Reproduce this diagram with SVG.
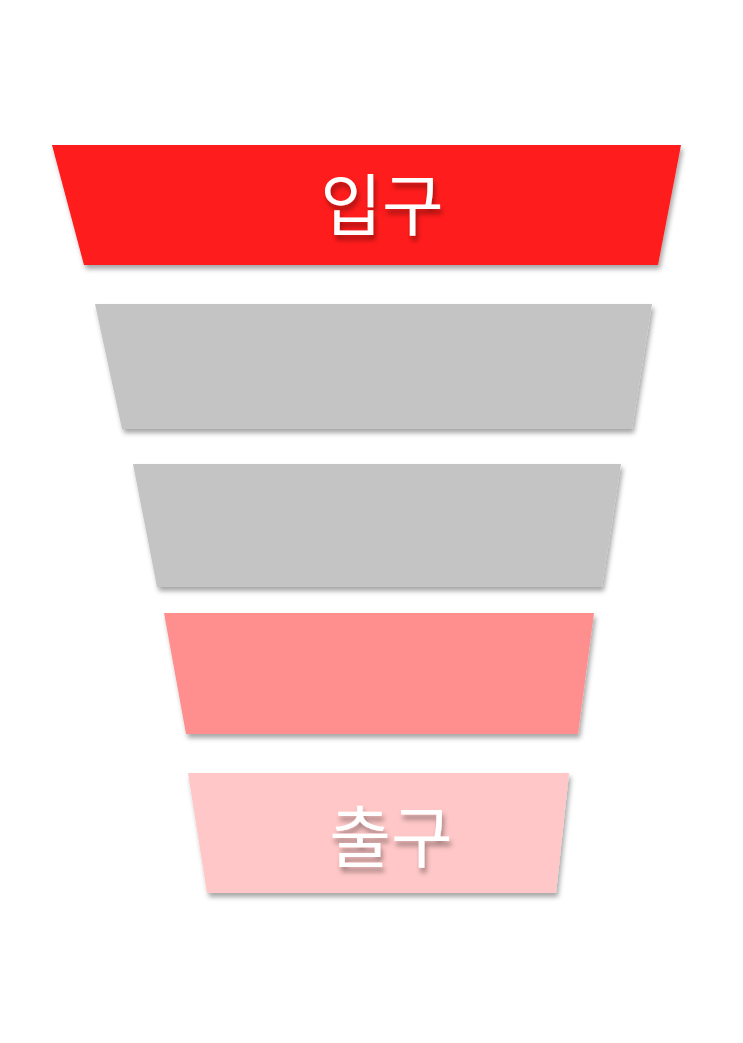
<svg xmlns="http://www.w3.org/2000/svg" width="743" height="1043" viewBox="0 0 743 1043">
<defs>
<filter id="sh" x="-10%" y="-10%" width="120%" height="130%">
<feDropShadow dx="2" dy="4" stdDeviation="2.5" flood-color="#000" flood-opacity="0.35"/>
</filter>
<filter id="tsh" x="-20%" y="-20%" width="140%" height="150%">
<feDropShadow dx="2" dy="5" stdDeviation="2.5" flood-color="#000" flood-opacity="0.35"/>
</filter>
</defs>
<style>
.lbl{font-family:"Noto Sans CJK KR","Noto Sans",sans-serif;font-size:67px;font-weight:400;fill:#fff;text-anchor:middle;filter:url(#tsh)}
.trap{filter:url(#sh)}
</style>
<rect width="743" height="1043" fill="#fff"/>
<g id="entry">
<polygon class="trap" points="52,145 681,145 658,265 84,265" fill="#FF1A1A"/>
<text class="lbl" x="382" y="230">입구</text>
</g>
<g id="stage2">
<polygon class="trap" points="95,304 652,304 632,429 122,429" fill="#C4C4C4"/>
</g>
<g id="stage3">
<polygon class="trap" points="133,464 621,464 602,587 157,587" fill="#C4C4C4"/>
</g>
<g id="stage4">
<polygon class="trap" points="164,613 594,613 578,734 186,734" fill="#FF8F8F"/>
</g>
<g id="exit">
<polygon class="trap" points="188,773 569,773 556,893 207,893" fill="#FFC7C7"/>
<text class="lbl" x="391" y="862">출구</text>
</g>
<g id="connectors"/>
</svg>
